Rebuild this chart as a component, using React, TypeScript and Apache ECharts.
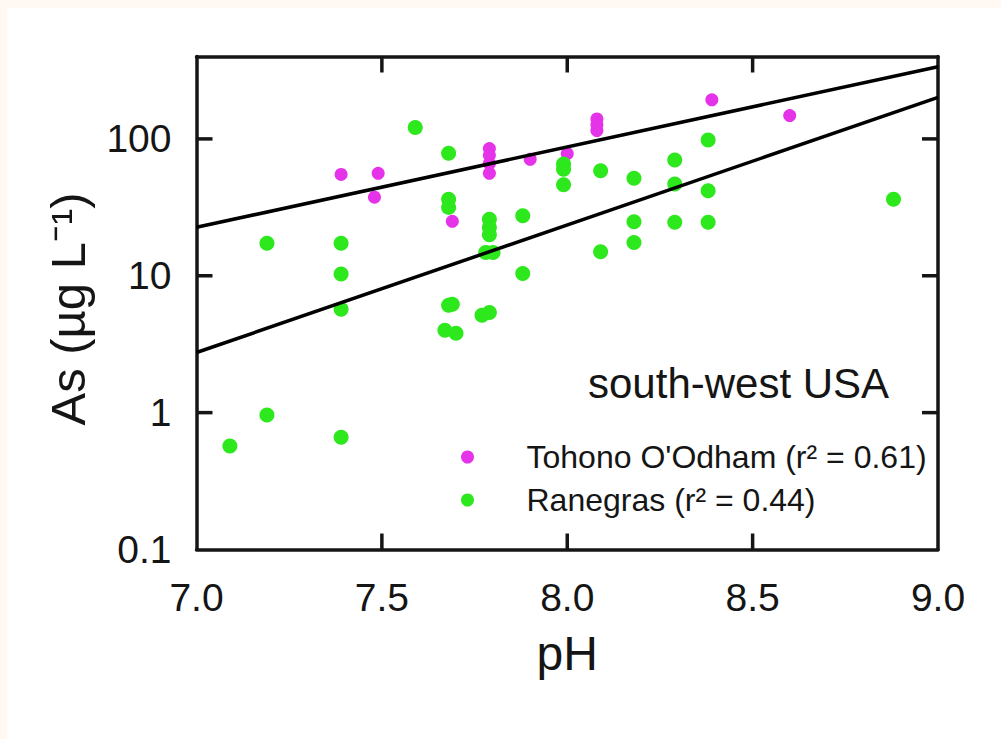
import React, { useEffect, useRef } from "react";
import * as echarts from "echarts";

// Tohono O'Odham samples
const tohonoPH = [7.39, 7.49, 7.48, 7.69, 7.79, 7.79, 7.79, 7.79, 7.9, 8.0, 8.08, 8.08, 8.08, 8.39, 8.6];
const tohonoAs = [55, 56, 37.5, 25, 85, 76, 66, 56, 71, 78, 140, 127, 115, 193, 148];

// Ranegras samples
const ranegrasPH = [
  7.59, 7.68, 7.68, 7.68, 7.19, 7.19, 7.39, 7.39, 7.39, 7.39, 7.09,
  7.68, 7.69, 7.67, 7.7, 7.99, 7.99, 7.99, 8.09, 8.09, 8.18, 8.18, 8.18,
  8.29, 8.29, 8.29, 7.79, 7.79, 7.79, 7.78, 7.8, 7.88, 7.88, 7.77, 7.79,
  8.38, 8.38, 8.38, 8.88,
];
const ranegrasAs = [
  121, 78.5, 36.3, 31.6, 17.3, 0.96, 17.3, 10.3, 5.7, 0.66, 0.57,
  6.1, 6.2, 4.0, 3.8, 65.5, 60, 46.2, 58.5, 15, 51.5, 24.8, 17.5,
  70, 46.8, 24.6, 25.9, 22.5, 19.9, 14.8, 14.8, 27.4, 10.4, 5.15, 5.4,
  98, 41.8, 24.6, 36.3,
];

// Regression lines (end points)
const tohonoFit = [[7.0, 22.6], [9.0, 337]];
const ranegrasFit = [[7.0, 2.75], [9.0, 201]];

// Axis ranges and interior tick positions
const xRange = [7, 9];
const yRange = [0.1, 400];
const xInnerTicks = [7.5, 8.0, 8.5];
const yInnerTicks = [1, 10, 100];

const seriesNames = ["Tohono O'Odham (r² = 0.61)", "Ranegras (r² = 0.44)"];
const regionLabel = "south-west USA";
const xTitle = "pH";
const yTitle = "As (µg L⁻¹)";

export default function App() {
  const ref = useRef<HTMLDivElement>(null);
  useEffect(() => {
    if (!ref.current) return;
    const chart = echarts.init(ref.current, undefined, { renderer: "svg" });
    const font = "'Liberation Sans', Arial, Helvetica, sans-serif";
    const ink = "#151515";
    const mkLine = () => ({ color: ink, width: 3.5 });
    const magenta = "#e433e8";
    const green = "#2ce81c";
    const tickLen = 16;
    const tickW = 3.5;

    // inward tick marks drawn as rectangle symbols anchored on the frame
    const tickSeries = (name: string, data: number[][], size: number[], offset: number[]) => ({
      name,
      type: "scatter",
      symbol: "rect",
      symbolSize: size,
      symbolOffset: offset,
      clip: false,
      silent: true,
      itemStyle: { color: ink, opacity: 1 },
      data,
      z: 6,
    });

    chart.setOption({
      animation: false,
      backgroundColor: "#ffffff",
      textStyle: { fontFamily: font },
      grid: { left: 189.5, top: 48.5, right: 63, bottom: 189.5, containLabel: false },
      xAxis: [
        {
          type: "value",
          min: xRange[0],
          max: xRange[1],
          interval: 0.5,
          position: "bottom",
          axisLine: { show: true, lineStyle: mkLine() },
          axisTick: { show: false },
          splitLine: { show: false },
          axisLabel: {
            fontSize: 39,
            color: ink,
            margin: 28,
            fontFamily: font,
            formatter: (v: number) => v.toFixed(1),
          },
          name: xTitle,
          nameLocation: "middle",
          nameGap: 80,
          nameTextStyle: { fontSize: 48, color: ink, fontFamily: font },
        },
        {
          type: "value",
          min: xRange[0],
          max: xRange[1],
          interval: 0.5,
          position: "top",
          axisLine: { show: true, lineStyle: mkLine() },
          axisTick: { show: false },
          splitLine: { show: false },
          axisLabel: { show: false },
        },
      ],
      yAxis: [
        {
          type: "log",
          logBase: 10,
          min: yRange[0],
          max: yRange[1],
          position: "left",
          axisLine: { show: true, lineStyle: mkLine() },
          axisTick: { show: false },
          splitLine: { show: false },
          minorTick: { show: false },
          axisLabel: {
            fontSize: 39,
            color: ink,
            margin: 25,
            fontFamily: font,
            showMaxLabel: false,
            formatter: (v: number) => (v >= 1 ? String(Math.round(v)) : v.toFixed(1)),
          },
          name: yTitle,
          nameLocation: "middle",
          nameGap: 104,
          nameTextStyle: { fontSize: 49, color: ink, fontFamily: font, padding: [0, 12, 0, 0] },
        },
        {
          type: "log",
          logBase: 10,
          min: yRange[0],
          max: yRange[1],
          position: "right",
          axisLine: { show: true, lineStyle: mkLine() },
          axisTick: { show: false },
          splitLine: { show: false },
          axisLabel: { show: false },
        },
      ],
      legend: {
        orient: "vertical",
        left: 449,
        top: 427,
        itemWidth: 108,
        itemHeight: 13,
        itemGap: 9,
        icon: "circle",
        data: seriesNames,
        textStyle: { fontSize: 32, lineHeight: 34, color: ink, fontFamily: font },
      },
      graphic: [
        {
          type: "text",
          x: 581,
          y: 375,
          style: {
            text: regionLabel,
            fontSize: 42,
            fontFamily: font,
            fill: ink,
            verticalAlign: "middle",
            align: "left",
          },
        },
      ],
      series: [
        {
          name: seriesNames[0],
          type: "scatter",
          symbol: "circle",
          symbolSize: 13,
          itemStyle: { color: magenta, opacity: 1 },
          data: tohonoPH.map((x, i) => [x, tohonoAs[i]]),
          z: 2,
        },
        {
          name: seriesNames[1],
          type: "scatter",
          symbol: "circle",
          symbolSize: 15,
          itemStyle: { color: green, opacity: 1 },
          data: ranegrasPH.map((x, i) => [x, ranegrasAs[i]]),
          z: 3,
        },
        {
          name: "fit-tohono",
          type: "line",
          data: tohonoFit,
          showSymbol: false,
          symbol: "none",
          lineStyle: { color: "#000", width: 3.5 },
          silent: true,
          z: 4,
        },
        {
          name: "fit-ranegras",
          type: "line",
          data: ranegrasFit,
          showSymbol: false,
          symbol: "none",
          lineStyle: { color: "#000", width: 3.5 },
          silent: true,
          z: 4,
        },
        tickSeries("tick-bottom", xInnerTicks.map((v) => [v, yRange[0]]), [tickW, tickLen], [0, -tickLen / 2]),
        tickSeries("tick-top", xInnerTicks.map((v) => [v, yRange[1]]), [tickW, tickLen], [0, tickLen / 2]),
        tickSeries("tick-left", yInnerTicks.map((v) => [xRange[0], v]), [tickLen, tickW], [tickLen / 2, 0]),
        tickSeries("tick-right", yInnerTicks.map((v) => [xRange[1], v]), [tickLen, tickW], [-tickLen / 2, 0]),
      ],
    });

    return () => chart.dispose();
  }, []);

  return (
    <div
      style={{
        position: "fixed",
        left: 0,
        top: 0,
        width: 1001,
        height: 739,
        background: "#fff8f3",
        overflow: "hidden",
      }}
    >
      <div
        ref={ref}
        style={{ position: "absolute", left: 7, top: 8, width: 994, height: 731, background: "#ffffff" }}
      />
    </div>
  );
}
